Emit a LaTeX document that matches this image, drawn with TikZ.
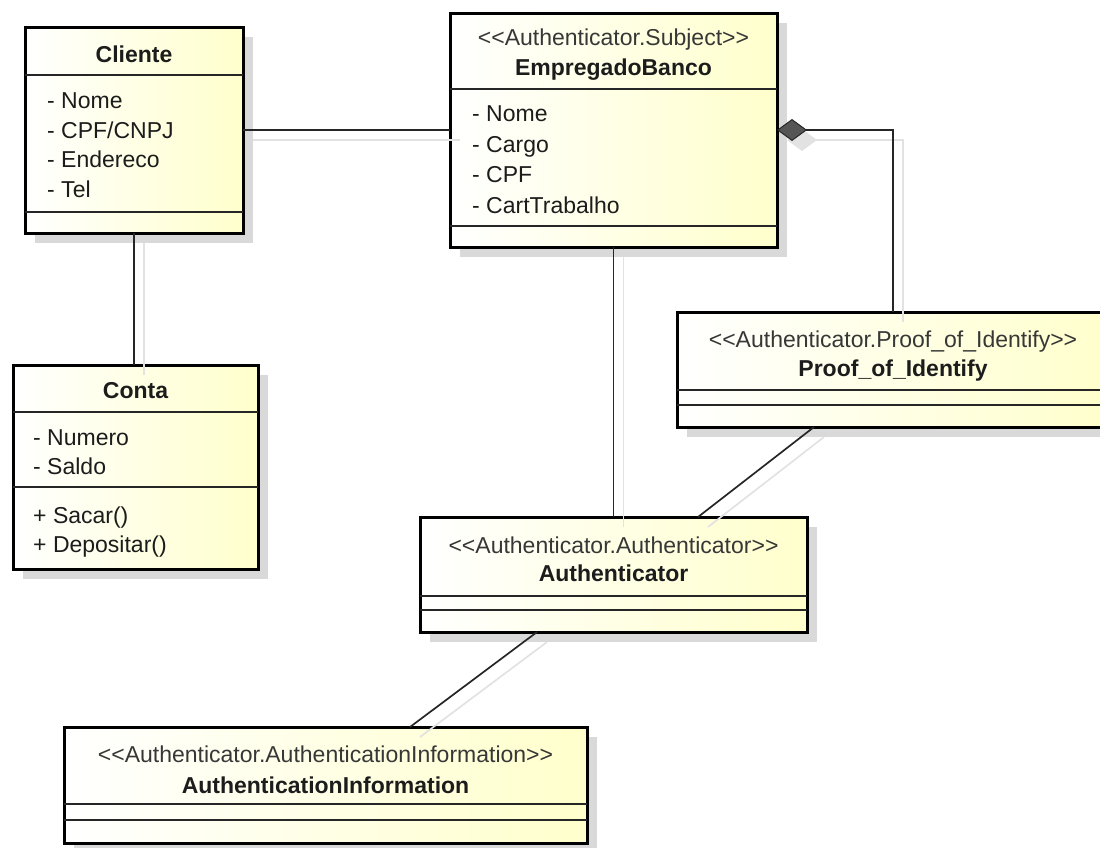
\documentclass[tikz,border=0pt]{standalone}
\usepackage{fontspec}
\setmainfont{Liberation Sans}
\usetikzlibrary{arrows.meta,calc}

\definecolor{classfill}{RGB}{255,255,204}
\definecolor{boxshadow}{RGB}{217,217,217}
\definecolor{lineshadow}{RGB}{226,226,226}
\definecolor{ink}{RGB}{28,28,28}
\definecolor{stereoink}{RGB}{55,55,55}
\definecolor{diamondfill}{RGB}{85,85,85}

% class box: name, left, top, right, bottom (pixel-like units, y downwards)
\newcommand\classbox[5]{%
  \fill[boxshadow] (#2+10,#3+10) rectangle (#4+10,#5+10);
  \node[cls, minimum width={(#4-#2)*1pt}, minimum height={(#5-#3)*1pt}] (#1) at (#2,#3) {};
}
% horizontal compartment separator inside a class box
\newcommand\compsep[2]{\draw[sepline] (#1.west |- 0,#2) -- (#1.east |- 0,#2);}
% stereotype text with guillemet-like brackets kept as two characters
\newcommand\stereo[1]{<\kern0pt<#1>\kern0pt>}

\begin{document}
\begin{tikzpicture}[x=1pt,y=-1pt,
  font=\fontsize{23}{28}\selectfont,
  cls/.style={draw=black, line width=3pt, left color=white, right color=classfill,
    inner sep=0pt, outer sep=0pt, anchor=north west},
  sepline/.style={draw=black!85, line width=1.5pt},
  conn/.style={draw=black!85, line width=1.7pt},
  connshadow/.style={draw=lineshadow, line width=1.7pt,
    transform canvas={xshift=10pt,yshift=-10pt}},
  txt/.style={inner sep=0pt, anchor=base west, text=ink},
  ttl/.style={inner sep=0pt, anchor=base, text=ink, font=\fontsize{23}{28}\selectfont\bfseries},
  st/.style={inner sep=0pt, anchor=base, text=stereoink},
]
\useasboundingbox (0,0) rectangle (1100,847);
\clip (0,0) rectangle (1100,847);

% ---- class boxes ----
\classbox{cliente}{25}{27}{243}{233}
\classbox{emp}{450}{13}{777}{247}
\classbox{conta}{13}{365}{258}{569}
\classbox{proof}{677}{312}{1109}{427}
\classbox{auth}{420}{517}{807}{632}
\classbox{authinfo}{64}{727}{587}{843}

% ---- compartments ----
\compsep{cliente}{75}  \compsep{cliente}{212}
\compsep{emp}{89}      \compsep{emp}{226}
\compsep{conta}{412}   \compsep{conta}{487}
\compsep{proof}{390}   \compsep{proof}{405}
\compsep{auth}{596}    \compsep{auth}{610}
\compsep{authinfo}{804} \compsep{authinfo}{820}

% ---- connector shadows ----
\draw[connshadow] (cliente.east) -- (emp.west);
\draw[connshadow] (cliente.south) -- (cliente.south |- conta.north);
\draw[connshadow] (emp.south) -- (auth.north);
\draw[connshadow, {Diamond[length=30pt,width=22pt,fill=lineshadow,line width=1pt]}-]
  (emp.east) -- (proof.north |- emp.east) -- (proof.north);
\draw[connshadow] ($(proof.south west)+(137,0)$) -- ($(auth.north west)+(278,0)$);
\draw[connshadow] ($(auth.south west)+(117,0)$) -- ($(authinfo.north west)+(346,0)$);

% ---- connectors ----
\draw[conn] (cliente.east) -- (emp.west);
\draw[conn] (cliente.south) -- (cliente.south |- conta.north);
\draw[conn] (emp.south) -- (auth.north);
\draw[conn, {Diamond[length=30pt,width=22pt,fill=diamondfill,line width=1pt]}-]
  (emp.east) -- (proof.north |- emp.east) -- (proof.north);
\draw[conn] ($(proof.south west)+(137,0)$) -- ($(auth.north west)+(278,0)$);
\draw[conn] ($(auth.south west)+(117,0)$) -- ($(authinfo.north west)+(346,0)$);

% ---- Cliente ----
\node[ttl] (cl-name) at (cliente.north |- 0,62) {Cliente};
\node[txt] (cl-a1) at (47,108) {- Nome};
\node[txt] (cl-a2) at (47,138) {- CPF/CNPJ};
\node[txt] (cl-a3) at (47,167) {- Endereco};
\node[txt] (cl-a4) at (47,197) {- Tel};

% ---- EmpregadoBanco ----
\node[st] (emp-st) at (emp.north |- 0,45) {\stereo{Authenticator.Subject}};
\node[ttl] (emp-name) at (emp.north |- 0,75) {EmpregadoBanco};
\node[txt] (emp-a1) at (472,121) {- Nome};
\node[txt] (emp-a2) at (472,152) {- Cargo};
\node[txt] (emp-a3) at (472,182) {- CPF};
\node[txt] (emp-a4) at (472,213) {- CartTrabalho};

% ---- Conta ----
\node[ttl] (co-name) at (conta.north |- 0,398) {Conta};
\node[txt] (co-a1) at (33,445) {- Numero};
\node[txt] (co-a2) at (33,474) {- Saldo};
\node[txt] (co-o1) at (33,523) {+ Sacar()};
\node[txt] (co-o2) at (33,552) {+ Depositar()};

% ---- Proof_of_Identify ----
\node[st] (pr-st) at (proof.north |- 0,347) {\stereo{Authenticator.Proof\_of\_Identify}};
\node[ttl] (pr-name) at (proof.north |- 0,376) {Proof\_of\_Identify};

% ---- Authenticator ----
\node[st] (au-st) at (auth.north |- 0,553) {\stereo{Authenticator.Authenticator}};
\node[ttl] (au-name) at (auth.north |- 0,581) {Authenticator};

% ---- AuthenticationInformation ----
\node[st] (ai-st) at (authinfo.north |- 0,762) {\stereo{Authenticator.AuthenticationInformation}};
\node[ttl] (ai-name) at (authinfo.north |- 0,793) {AuthenticationInformation};
\end{tikzpicture}
\end{document}
